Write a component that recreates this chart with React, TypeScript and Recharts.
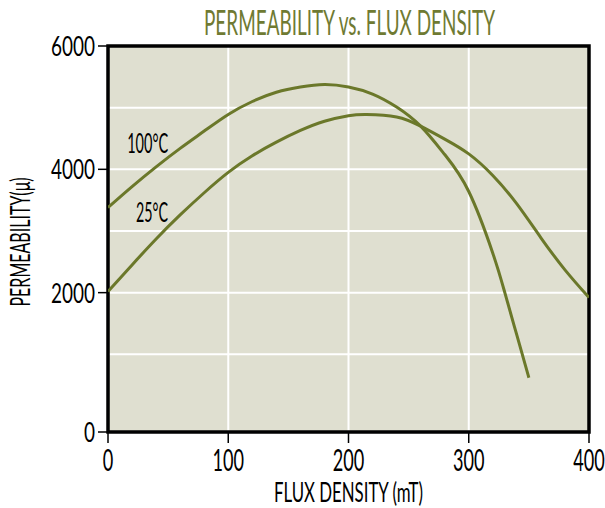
import React from 'react';
import {
  LineChart,
  Line,
  XAxis,
  YAxis,
  CartesianGrid,
  ReferenceArea,
  ReferenceDot,
} from 'recharts';

// ---- data ----
const TITLE = 'PERMEABILITY vs. FLUX DENSITY';
const X_LABEL = 'FLUX DENSITY (mT)';
const Y_LABEL = 'PERMEABILITY(\u03bc)';

const X_TICKS = [0, 100, 200, 300, 400];
// the reference draws its "0" label at the bottom edge of the frame
const Y_BOTTOM = -260;
const Y_TICKS = [Y_BOTTOM, 2000, 4000, 6000];
const Y_GRID = [1000, 2000, 3000, 4000, 5000];
const X_GRID = [100, 200, 300];

const flux100 = [0, 20, 40, 60, 80, 100, 120, 140, 160, 180, 200, 220, 240, 260, 280, 300, 320, 330, 340, 350];
const mu100 = [3380, 3720, 4040, 4340, 4620, 4890, 5100, 5250, 5335, 5375, 5335, 5220, 5010, 4700, 4240, 3640, 2640, 2000, 1310, 620];

const flux25 = [0, 20, 40, 60, 80, 100, 120, 140, 160, 180, 200, 215, 240, 260, 280, 300, 320, 340, 360, 380, 400];
const mu25 = [2020, 2450, 2870, 3260, 3620, 3950, 4220, 4440, 4630, 4780, 4870, 4890, 4850, 4700, 4490, 4250, 3900, 3440, 2890, 2370, 1920];

const LABEL_100 = { text: '100\u00b0C', x: 33, y: 4430 };
const LABEL_25 = { text: '25\u00b0C', x: 36.6, y: 3300 };

const series100 = flux100.map((x, i) => ({ x, y: mu100[i] }));
const series25 = flux25.map((x, i) => ({ x, y: mu25[i] }));

// ---- styles ----
const FONT = "Lato, 'Liberation Sans', Arial, sans-serif";
const WEIGHT = 400;
const OLIVE = '#6b782a';
const TITLE_COLOR = '#6f7a32';
const PLOT_BG = '#dfdfd0';

const XTick = (props: any) => {
  const { x, y, payload } = props;
  const s = String(payload.value);
  return (
    <text
      x={x}
      y={y + 28}
      textAnchor="middle"
      fontFamily={FONT}
      fontWeight={WEIGHT}
      fontSize={30}
      fill="#000"
      textLength={s.length * 10.5}
      lengthAdjust="spacingAndGlyphs"
    >
      {s}
    </text>
  );
};

const YTick = (props: any) => {
  const { x, y, payload } = props;
  const s = payload.value < 0 ? '0' : String(payload.value);
  return (
    <text
      x={x}
      y={y + 10}
      textAnchor="end"
      fontFamily={FONT}
      fontWeight={WEIGHT}
      fontSize={27}
      fill="#000"
      textLength={s.length * 11}
      lengthAdjust="spacingAndGlyphs"
    >
      {s}
    </text>
  );
};

const XLabel = (props: any) => {
  const vb = props.viewBox || { x: 108, y: 432, width: 481, height: 76 };
  return (
    <text
      x={vb.x + vb.width / 2}
      y={vb.y + 70}
      textAnchor="middle"
      fontFamily={FONT}
      fontWeight={WEIGHT}
      fontSize={27}
      fill="#000"
      textLength={149}
      lengthAdjust="spacingAndGlyphs"
    >
      {X_LABEL}
    </text>
  );
};

const YLabel = (props: any) => {
  const vb = props.viewBox || { x: 0, y: 46, width: 108, height: 386 };
  const cx = vb.x + 30;
  const cy = vb.y + vb.height / 2 + 3;
  return (
    <text
      x={cx}
      y={cy}
      transform={`rotate(-90, ${cx}, ${cy})`}
      textAnchor="middle"
      fontFamily={FONT}
      fontWeight={WEIGHT}
      fontSize={27}
      fill="#000"
      textLength={129}
      lengthAdjust="spacingAndGlyphs"
    >
      {Y_LABEL}
    </text>
  );
};

const curveLabel = (text: string, len: number) => (p: any) => (
  <text
    x={p.cx}
    y={p.cy + 10}
    textAnchor="middle"
    fontFamily={FONT}
    fontWeight={WEIGHT}
    fontSize={27}
    fill="#000"
    textLength={len}
    lengthAdjust="spacingAndGlyphs"
  >
    {text}
  </text>
);

export default function App() {
  return (
    <div style={{ position: 'absolute', left: 0, top: 0, width: 605, height: 508, background: '#fff' }}>
      <LineChart
        width={605}
        height={508}
        margin={{ top: 46, right: 16, bottom: 0, left: 0 }}
        style={{ position: 'absolute', left: 0, top: 0 }}
      >
        <CartesianGrid
          fill={PLOT_BG}
          fillOpacity={1}
          stroke="#ffffff"
          strokeWidth={2}
          horizontalValues={Y_GRID}
          verticalValues={X_GRID}
        />
        <XAxis
          type="number"
          dataKey="x"
          domain={[0, 400]}
          ticks={X_TICKS}
          height={76}
          axisLine={false}
          tickSize={11}
          tickMargin={0}
          tickLine={{ stroke: '#000', strokeWidth: 1.5 }}
          tick={<XTick />}
          interval={0}
          allowDataOverflow
          label={<XLabel />}
        />
        <YAxis
          type="number"
          dataKey="y"
          domain={[Y_BOTTOM, 6000]}
          ticks={Y_TICKS}
          width={108}
          axisLine={false}
          tickSize={10}
          tickMargin={3}
          tickLine={{ stroke: '#000', strokeWidth: 1.5 }}
          tick={<YTick />}
          interval={0}
          allowDataOverflow
          label={<YLabel />}
        />
        <Line
          data={series100}
          dataKey="y"
          type="natural"
          stroke={OLIVE}
          strokeWidth={3}
          dot={false}
          activeDot={false}
          isAnimationActive={false}
        />
        <Line
          data={series25}
          dataKey="y"
          type="natural"
          stroke={OLIVE}
          strokeWidth={3}
          dot={false}
          activeDot={false}
          isAnimationActive={false}
        />
        <ReferenceDot
          x={LABEL_100.x}
          y={LABEL_100.y}
          r={0}
          shape={curveLabel(LABEL_100.text, 41)}
        />
        <ReferenceDot
          x={LABEL_25.x}
          y={LABEL_25.y}
          r={0}
          shape={curveLabel(LABEL_25.text, 32)}
        />
        <ReferenceArea
          x1={0}
          x2={400}
          y1={Y_BOTTOM}
          y2={6000}
          fill="none"
          fillOpacity={0}
          stroke="#000"
          strokeWidth={3.5}
        />
      </LineChart>
      <svg width={605} height={46} style={{ position: 'absolute', left: 0, top: 0 }}>
        <text
          x={349.5}
          y={35}
          textAnchor="middle"
          fontFamily={FONT}
          fontWeight={WEIGHT}
          fontSize={34}
          fill={TITLE_COLOR}
          textLength={291}
          lengthAdjust="spacingAndGlyphs"
        >
          {TITLE}
        </text>
      </svg>
    </div>
  );
}
